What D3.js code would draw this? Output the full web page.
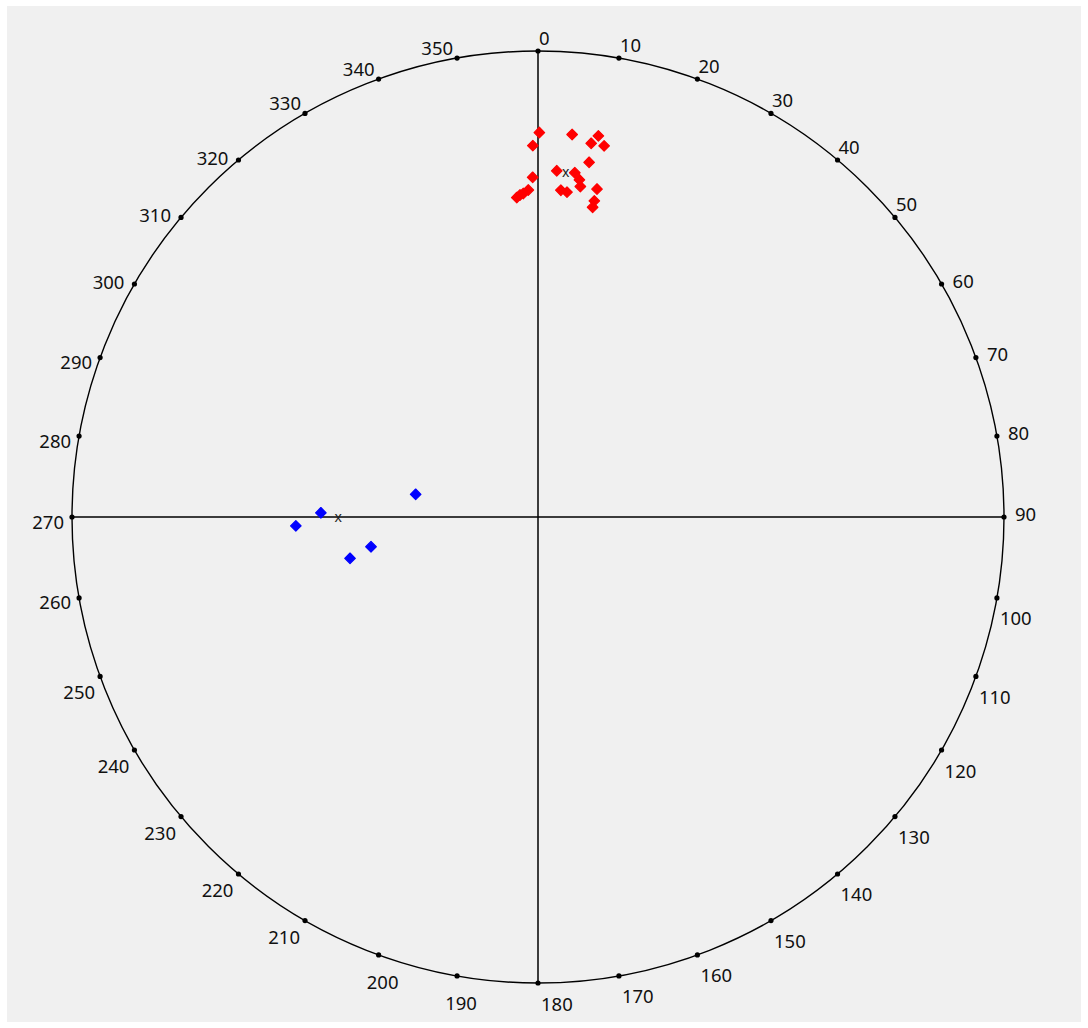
<!DOCTYPE html>
<html>
<head>
<meta charset="utf-8">
<script src="https://cdn.jsdelivr.net/npm/d3@7"></script>
<style>
	body { margin: 0; background: #ffffff; }
	.tick-label { font-family: "Segoe UI", "Noto Sans", sans-serif; font-size: 18.5px; fill: #111; }
	.mean { font-family: "Segoe UI", "Noto Sans", sans-serif; font-size: 14px; fill: #222; }
</style>
</head>
<body>
<div class="stereo-plot"></div>
<script>

// azimuth in degrees (clockwise from north), distance as fraction of the circle radius
const redAzimuth = [0.2, 359.2, 5.1, 9.0, 8.1, 10.1, 8.2, 359.1, 3.1, 6.1, 7.0, 7.3, 10.2, 4.0, 5.1, 358.3, 357.4, 356.8, 356.2, 10.1, 10.0];
const redDistance = [0.825, 0.797, 0.824, 0.828, 0.810, 0.809, 0.769, 0.729, 0.744, 0.743, 0.729, 0.715, 0.715, 0.703, 0.700, 0.702, 0.695, 0.692, 0.687, 0.689, 0.675];

const blueAzimuth = [280.5, 271.1, 267.9, 259.9, 257.6];
const blueDistance = [0.267, 0.466, 0.520, 0.364, 0.413];

// mean directions, drawn as "x"
const meanAzimuth = [4.6, 270.1];
const meanDistance = [0.743, 0.429];

const tickAngles = d3.range(0, 360, 10);

const width = 1088;
const height = 1028;
const cx = 538;
const cy = 517;
const radius = 466;

function zip(az, dist) {
	return az.map(function(a, i) {
		return { az: a, dist: dist[i] };
	});
}

const rScale = d3.scaleLinear().domain([0, 1]).range([0, radius]);
const angle = d3.scaleLinear().domain([0, 360]).range([0, 2 * Math.PI]);

function px(d) {
	return cx + rScale(d.dist) * Math.sin(angle(d.az));
}
function py(d) {
	return cy - rScale(d.dist) * Math.cos(angle(d.az));
}

// where the label goes relative to its tick dot: [dx, dy, anchor]
function labelPlace(a) {
	if (a <= 50) return [1, -14, 'start'];
	if (a <= 90) return [11, -4, 'start'];
	if (a <= 180) return [3, 20, 'start'];
	if (a <= 200) return [4, 27, 'middle'];
	if (a <= 250) return [-5, 15.5, 'end'];
	if (a <= 290) return [-8, 4, 'end'];
	if (a <= 320) return [-10, -3, 'end'];
	return [-4, -11, 'end'];
}

const svg = d3.select('.stereo-plot').append('svg')
	.attr('width', width)
	.attr('height', height);

svg.append('rect')
	.attr('x', 7)
	.attr('y', 6)
	.attr('width', 1074)
	.attr('height', 1016)
	.attr('fill', '#f0f0f0');

// cross lines
svg.append('line')
	.attr('x1', px({ az: 0, dist: 1 }))
	.attr('y1', py({ az: 0, dist: 1 }))
	.attr('x2', px({ az: 180, dist: 1 }))
	.attr('y2', py({ az: 180, dist: 1 }))
	.attr('stroke', '#000')
	.attr('stroke-width', 1.5);

svg.append('line')
	.attr('x1', px({ az: 270, dist: 1 }))
	.attr('y1', py({ az: 270, dist: 1 }))
	.attr('x2', px({ az: 90, dist: 1 }))
	.attr('y2', py({ az: 90, dist: 1 }))
	.attr('stroke', '#000')
	.attr('stroke-width', 1.5);

svg.append('circle')
	.attr('cx', cx)
	.attr('cy', cy)
	.attr('r', rScale(1))
	.attr('fill', 'none')
	.attr('stroke', '#000')
	.attr('stroke-width', 1.4);

svg.selectAll('.tick-dot')
	.data(tickAngles)
	.enter()
	.append('circle')
	.attr('cx', function(d) { return px({ az: d, dist: 1 }); })
	.attr('cy', function(d) { return py({ az: d, dist: 1 }); })
	.attr('r', 2.6)
	.attr('fill', '#000')
	.attr('class', 'tick-dot');

svg.selectAll('.tick-label')
	.data(tickAngles)
	.enter()
	.append('text')
	.text(function(d) { return `${d}`; })
	.attr('x', function(d) {
		return px({ az: d, dist: 1 }) + labelPlace(d)[0];
	})
	.attr('y', function(d) {
		return py({ az: d, dist: 1 }) + labelPlace(d)[1];
	})
	.attr('text-anchor', function(d) { return labelPlace(d)[2]; })
	.attr('dominant-baseline', 'central')
	.attr('class', 'tick-label');

const diamond = d3.symbol().type(d3.symbolSquare).size(56);

svg.selectAll('.red')
	.data(zip(redAzimuth, redDistance))
	.enter()
	.append('path')
	.attr('d', diamond)
	.attr('transform', function(d) {
		return `translate(${px(d)},${py(d)}) rotate(45)`;
	})
	.attr('fill', '#ff0000')
	.attr('stroke', '#ff0000')
	.attr('stroke-width', 1.2)
	.attr('stroke-linejoin', 'round')
	.attr('class', 'red');

svg.selectAll('.blue')
	.data(zip(blueAzimuth, blueDistance))
	.enter()
	.append('path')
	.attr('d', diamond)
	.attr('transform', function(d) {
		return `translate(${px(d)},${py(d)}) rotate(45)`;
	})
	.attr('fill', '#0000ff')
	.attr('stroke', '#0000ff')
	.attr('stroke-width', 1.2)
	.attr('stroke-linejoin', 'round')
	.attr('class', 'blue');

svg.selectAll('.mean')
	.data(zip(meanAzimuth, meanDistance))
	.enter()
	.append('text')
	.text('x')
	.attr('x', function(d) { return px(d); })
	.attr('y', function(d) { return py(d); })
	.attr('text-anchor', 'middle')
	.attr('dominant-baseline', 'central')
	.attr('class', 'mean');

</script>
</body>
</html>
